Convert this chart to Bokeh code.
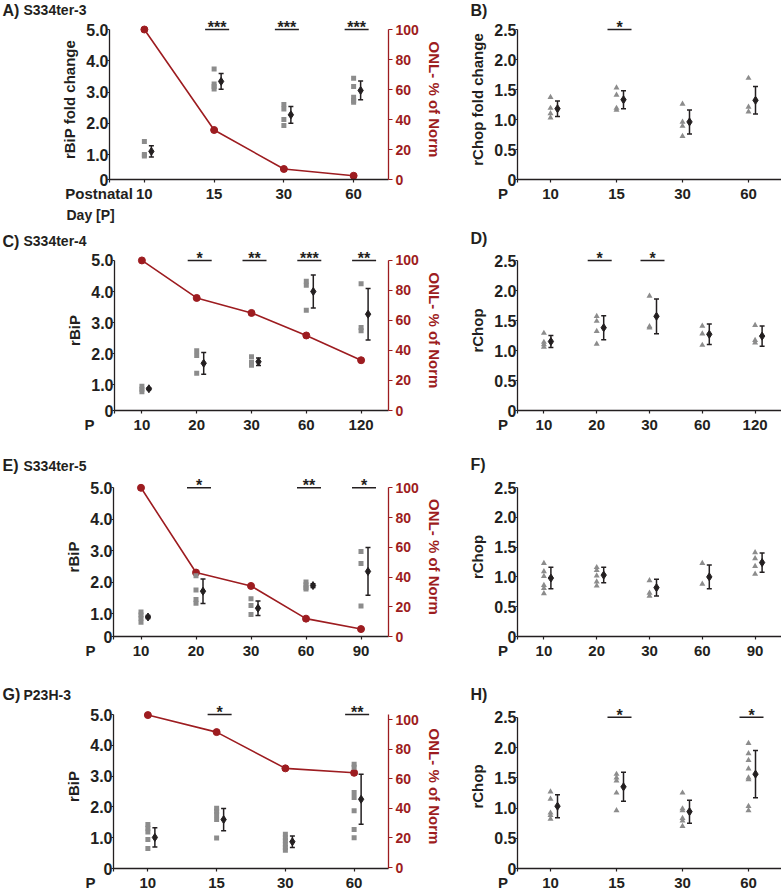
from bokeh.plotting import figure
from bokeh.models import Range1d, LinearAxis, FixedTicker, PrintfTickFormatter, ColumnDataSource
from bokeh.layouts import row, column
from bokeh.embed import file_html
from bokeh.resources import INLINE
from bokeh.core.properties import value

# ---------------- data ----------------
A_days = [10, 15, 30, 60]
A_bip_pts = [[1.42, 1.00, 0.95], [3.74, 3.26, 3.18, 3.10], [2.60, 2.46, 2.12, 1.93], [3.44, 3.18, 2.83, 2.73, 2.67]]
A_bip_mean = [1.10, 3.34, 2.27, 3.05]
A_bip_err = [0.18, 0.25, 0.27, 0.30]
A_bip_sig = ["", "***", "***", "***"]
A_onl = [100, 33, 7, 2.5]
B_chop_pts = [[1.37, 1.19, 1.10, 1.03], [1.53, 1.41, 1.19, 1.16], [1.26, 0.96, 0.89, 0.72], [1.69, 1.21, 1.13]]
B_chop_mean = [1.18, 1.33, 0.96, 1.32]
B_chop_err = [0.13, 0.15, 0.20, 0.23]
B_chop_sig = ["", "*", "", ""]

C_days = [10, 20, 30, 60, 120]
C_bip_pts = [[0.95, 0.85, 0.77], [2.09, 1.94, 1.37], [1.90, 1.72, 1.63], [4.33, 4.20, 3.40], [4.25, 2.84, 2.74]]
C_bip_mean = [0.87, 1.69, 1.74, 4.00, 3.27]
C_bip_err = [0.03, 0.35, 0.12, 0.53, 0.83]
C_bip_sig = ["", "*", "**", "***", "**"]
C_onl = [100, 75, 65, 50, 33.5]
D_chop_pts = [[1.29, 1.14, 1.10, 1.06], [1.57, 1.49, 1.32, 1.11], [1.91, 1.40, 1.38], [1.41, 1.28, 1.09], [1.42, 1.17, 1.13]]
D_chop_mean = [1.15, 1.38, 1.57, 1.27, 1.24]
D_chop_err = [0.10, 0.20, 0.29, 0.17, 0.17]
D_chop_sig = ["", "*", "*", "", ""]

E_days = [10, 20, 30, 60, 90]
E_bip_pts = [[1.05, 0.95, 0.85, 0.72], [2.20, 1.75, 1.45, 1.33], [1.47, 1.26, 0.97], [2.00, 1.92, 1.83, 1.78], [2.97, 2.59, 1.24]]
E_bip_mean = [0.89, 1.71, 1.17, 1.89, 2.34]
E_bip_err = [0.05, 0.39, 0.23, 0.06, 0.76]
E_bip_sig = ["", "*", "", "**", "*"]
E_onl = [100, 43, 34, 12, 5]
F_chop_pts = [[1.23, 1.09, 1.01, 0.86, 0.81, 0.72], [1.16, 1.11, 1.02, 0.92, 0.85], [0.94, 0.73, 0.68], [1.23, 0.88], [1.41, 1.31, 1.18, 1.05]]
F_chop_mean = [0.98, 1.03, 0.82, 1.00, 1.24]
F_chop_err = [0.18, 0.13, 0.14, 0.20, 0.16]
F_chop_sig = ["", "", "", "", ""]

G_days = [10, 15, 30, 60]
G_bip_pts = [[1.43, 1.31, 1.19, 0.94, 0.65], [1.96, 1.86, 1.75, 1.59, 0.99], [1.11, 1.00, 0.90, 0.79, 0.68, 0.59], [3.39, 3.29, 2.47, 2.31, 1.88, 1.27, 1.00]]
G_bip_mean = [1.01, 1.59, 0.87, 2.25]
G_bip_err = [0.31, 0.36, 0.19, 0.81]
G_bip_sig = ["", "*", "", "**"]
G_onl = [103, 91.5, 67, 64]
H_chop_pts = [[1.27, 1.15, 0.92, 0.88, 0.82], [1.56, 1.50, 1.45, 1.25, 0.96], [1.25, 0.99, 0.96, 0.83, 0.79, 0.70], [2.07, 1.90, 1.79, 1.65, 1.50, 1.47, 1.03, 0.96]]
H_chop_mean = [1.03, 1.35, 0.94, 1.56]
H_chop_err = [0.19, 0.24, 0.19, 0.39]
H_chop_sig = ["", "*", "", "*"]

# panel headings
headings = [("A)", "S334ter-3", "B)"), ("C)", "S334ter-4", "D)"), ("E)", "S334ter-5", "F)"), ("G)", "P23H-3", "H)")]

# ---------------- style ----------------
RED = "#9d1c20"
TXT = "#231f20"
GRAY = "#8c8c8c"
FONT = "Liberation Sans"
WIDTH = 781
XFS = 15                 # x tick label font size (px)
NBSP_W = 0.278 * XFS     # width of a no-break space at that size


def ri(v):
    return int(round(v))


def style_axis(ax, color, fs, lfs="15px"):
    ax.axis_line_color = color
    ax.axis_line_width = 1.3
    ax.major_tick_line_color = color
    ax.major_tick_line_width = 1.2
    ax.minor_tick_line_color = None
    ax.major_label_text_color = color
    ax.major_label_text_font = FONT
    ax.major_label_text_font_style = "bold"
    ax.major_label_text_font_size = fs
    ax.axis_label_text_color = color
    ax.axis_label_text_font = FONT
    ax.axis_label_text_font_style = "bold"
    ax.axis_label_text_font_size = lfs


def panel(days, pts, mean, err, sig, marker, ylabel, fig_x0, fig_x1, row_y0, row_y1,
          fl, fr, ytop_px, ybot_px, vb, topval, yticks, lead_text, lead_px,
          onl=None, r0=None, r100=None, mark_size=5):
    n = len(days)
    ybot_i = ri(ybot_px)
    ppc = (fr - fl) / n
    k = (ybot_i - ytop_px) / (topval - vb)

    def dy(py):
        return vb + (ybot_i - py) / k

    p = figure(width=fig_x1 - fig_x0, height=row_y1 - row_y0,
               x_range=Range1d(-0.5, n - 0.5), y_range=Range1d(vb, dy(row_y0)),
               x_axis_type=None, y_axis_type=None, output_backend="svg", toolbar_location=None,
               min_border_left=ri(fl - fig_x0), min_border_right=ri(fig_x1 - fr),
               min_border_top=0, min_border_bottom=ri(row_y1 - ybot_i))
    p.outline_line_color = None
    p.title.visible = False

    # x axis: sampling days, plus the lead text ("P" / "Postnatal") at the axis start
    pad = "\u00a0" * max(0, ri(2 * (fl - lead_px) / NBSP_W))
    labels = {-0.5: lead_text + pad}
    labels.update({i: str(d) for i, d in enumerate(days)})
    xax = LinearAxis(ticker=FixedTicker(ticks=[-0.5] + list(range(n))), major_label_overrides=labels)
    style_axis(xax, TXT, f"{XFS}px")
    xax.major_tick_out = 3
    xax.major_tick_in = 0
    xax.major_label_standoff = 2
    p.add_layout(xax, "below")

    # left y axis
    yax = LinearAxis(ticker=FixedTicker(ticks=yticks), formatter=PrintfTickFormatter(format="%.1f"),
                     major_label_overrides={yticks[0]: "0"}, bounds=(vb, topval), axis_label=ylabel)
    style_axis(yax, TXT, "16px")
    yax.major_tick_out = 2
    yax.major_tick_in = 0
    yax.major_label_standoff = -1
    yax.axis_label_standoff = 5
    p.add_layout(yax, "left")

    # ONL thickness on the right axis
    if onl is not None:
        kr = (r0 - r100) / 100.0

        def rv(py):
            return (r0 - py) / kr

        p.extra_y_ranges = {"onl": Range1d(rv(ybot_i), rv(row_y0))}
        rax = LinearAxis(y_range_name="onl", ticker=FixedTicker(ticks=[0, 20, 40, 60, 80, 100]),
                         bounds=(rv(ybot_i), rv(ytop_px)), axis_label="ONL- % of Norm")
        style_axis(rax, RED, "14px")
        rax.major_tick_out = 4
        rax.major_tick_in = 0
        rax.major_label_standoff = 3
        rax.axis_label_standoff = 4
        p.add_layout(rax, "right")
        p.line(list(range(n)), onl, y_range_name="onl", line_color=RED, line_width=1.6)
        p.scatter(list(range(n)), onl, y_range_name="onl", size=7, fill_color=RED, line_color=RED)

    # individual animals
    xs = [i for i, g in enumerate(pts) for _ in g]
    ys = [v for g in pts for v in g]
    p.scatter(xs, ys, marker=marker, size=mark_size, fill_color=GRAY, line_color=None)

    # mean +- error
    off = 7.0 / ppc
    cap = 2.5 / ppc
    xm = [i + off for i in range(n)]
    lo = [m - e for m, e in zip(mean, err)]
    hi = [m + e for m, e in zip(mean, err)]
    p.segment(x0=xm, y0=lo, x1=xm, y1=hi, line_color=TXT, line_width=1.5)
    p.segment(x0=[x - cap for x in xm], y0=lo, x1=[x + cap for x in xm], y1=lo, line_color=TXT, line_width=1.5)
    p.segment(x0=[x - cap for x in xm], y0=hi, x1=[x + cap for x in xm], y1=hi, line_color=TXT, line_width=1.5)
    p.scatter(xm, mean, marker="diamond", size=8, fill_color=TXT, line_color=TXT)

    # significance bars
    idx = [i for i, s in enumerate(sig) if s]
    if idx:
        xc = [i + 3.0 / ppc for i in idx]
        half = 12.0 / ppc
        p.segment(x0=[x - half for x in xc], y0=[topval] * len(idx), x1=[x + half for x in xc],
                  y1=[topval] * len(idx), line_color=TXT, line_width=1.5)
        p.text(x=xc, y=[topval] * len(idx), text=[sig[i] for i in idx], text_align="center",
               text_baseline="alphabetic", y_offset=-2, text_font=value(FONT), text_font_style="bold",
               text_font_size="16px", text_color=TXT)
    return p


def strip(h, items):
    s = figure(width=WIDTH, height=h, x_range=Range1d(0, WIDTH), y_range=Range1d(h, 0),
               x_axis_type=None, y_axis_type=None, output_backend="svg", toolbar_location=None,
               min_border=0)
    s.outline_line_color = None
    s.title.visible = False
    for size in sorted(set(it[3] for it in items)):
        sub = [it for it in items if it[3] == size]
        src = ColumnDataSource(dict(x=[it[0] for it in sub], y=[it[1] for it in sub], t=[it[2] for it in sub]))
        s.text(x="x", y="y", text="t", source=src, text_font=value(FONT), text_font_style="bold",
               text_font_size=size, text_baseline="middle", text_align="left", text_color=TXT)
    return s


LX0, LX1, RX0, RX1 = 0, 452, 452, 781
L_T = [0, 1, 2, 3, 4, 5]
R_T = [0, 0.5, 1, 1.5, 2, 2.5]
LET, STR = "16px", "14px"

s1 = strip(19, [(2, 9.5, headings[0][0], LET), (23, 9.5, headings[0][1], STR), (470, 10, headings[0][2], LET)])
pA = panel(A_days, A_bip_pts, A_bip_mean, A_bip_err, A_bip_sig, "square", "rBiP fold change",
           LX0, LX1, 19, 205, 109, 388, 29, 179, 0.2, 5.0, [0.2] + L_T[1:], "Postnatal", 98,
           onl=A_onl, r0=179, r100=29)
pB = panel(A_days, B_chop_pts, B_chop_mean, B_chop_err, B_chop_sig, "triangle", "rChop fold change",
           RX0, RX1, 19, 205, 517, 781, 29, 179, 0, 2.5, R_T, "P", 502, mark_size=6)

s2 = strip(45, [(66, 9, "Day [P]", STR), (2, 35.5, headings[1][0], LET), (23, 35.5, headings[1][1], STR),
                (470, 33, headings[1][2], LET)])
pC = panel(C_days, C_bip_pts, C_bip_mean, C_bip_err, C_bip_sig, "square", "rBiP",
           LX0, LX1, 250, 440, 114, 388, 260, 411, 0.17, 5.0, [0.17] + L_T[1:], "P", 90,
           onl=C_onl, r0=411, r100=260)
pD = panel(C_days, D_chop_pts, D_chop_mean, D_chop_err, D_chop_sig, "triangle", "rChop",
           RX0, RX1, 250, 440, 517, 781, 260, 410, 0, 2.5, R_T, "P", 502, mark_size=6)

s3 = strip(37, [(2, 25, headings[2][0], LET), (23, 25, headings[2][1], STR), (470, 24, headings[2][2], LET)])
pE = panel(E_days, E_bip_pts, E_bip_mean, E_bip_err, E_bip_sig, "square", "rBiP",
           LX0, LX1, 477, 662, 113, 388, 487.3, 636, 0.27, 5.0, [0.27] + L_T[1:], "P", 90,
           onl=E_onl, r0=636, r100=487.3)
pF = panel(E_days, F_chop_pts, F_chop_mean, F_chop_err, F_chop_sig, "triangle", "rChop",
           RX0, RX1, 477, 662, 517, 781, 487, 636, 0, 2.5, R_T, "P", 502, mark_size=6)

s4 = strip(42, [(2, 32, headings[3][0], LET), (23, 32, headings[3][1], STR), (470, 32, headings[3][2], LET)])
pG = panel(G_days, G_bip_pts, G_bip_mean, G_bip_err, G_bip_sig, "square", "rBiP",
           LX0, LX1, 704, 893, 113, 388, 714.3, 871, 0, 5.0, L_T, "P", 90,
           onl=G_onl, r0=870, r100=719.3)
pH = panel(G_days, H_chop_pts, H_chop_mean, H_chop_err, H_chop_sig, "triangle", "rChop",
           RX0, RX1, 704, 893, 517, 781, 717, 871, 0, 2.5, R_T, "P", 502, mark_size=6)

layout = column(s1, row(pA, pB), s2, row(pC, pD), s3, row(pE, pF), s4, row(pG, pH))
open("out.html", "w").write(file_html(layout, INLINE))
